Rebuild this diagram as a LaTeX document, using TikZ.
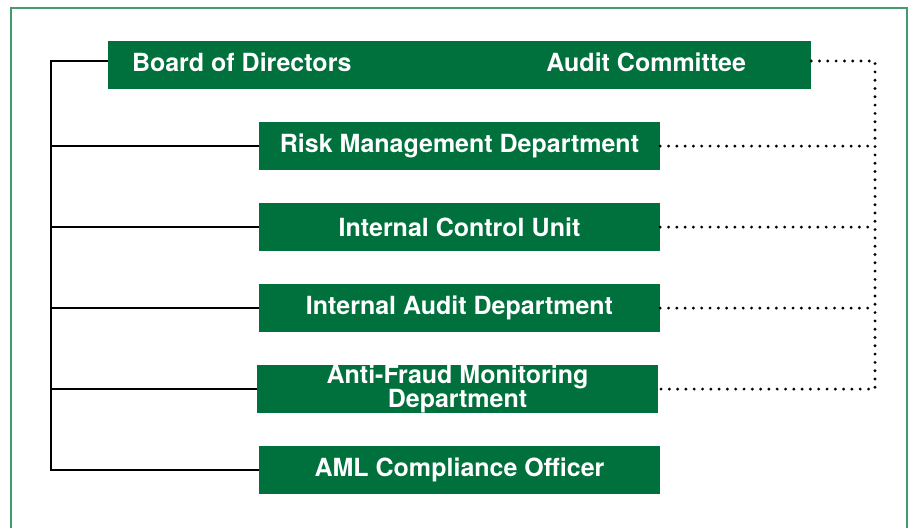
\documentclass[tikz,border=0pt]{standalone}
\usepackage{fontspec}
\setmainfont{TeX Gyre Heros}
\usetikzlibrary{positioning}

\definecolor{boxgreen}{RGB}{0,112,60}
\definecolor{framegreen}{RGB}{70,155,110}

\begin{document}
\begin{tikzpicture}[
    x=1pt, y=-1pt,
    % Set distances between nodes
    node distance=32.8pt,
    % Style for the green boxes
    box/.style={
        rectangle,
        fill=boxgreen,
        text=white,
        font=\fontsize{25}{21}\selectfont\bfseries,
        minimum width=401pt,
        minimum height=47.8pt,
        align=center,
        inner sep=0pt
    },
    % Style for the white texts on the top box
    title/.style={
        text=white,
        font=\fontsize{25}{21}\selectfont\bfseries,
        inner sep=0pt
    },
    % Solid reporting lines
    link/.style={
        draw=black,
        line width=2.3pt
    },
    % Dotted lines to the committee
    dots/.style={
        draw=black,
        line width=3.2pt,
        line cap=round,
        dash pattern=on 0pt off 8.3pt
    }
]

\useasboundingbox (0,0) rectangle (909,528);

% 0. Outer frame (open at the bottom)
\draw[framegreen, line width=1.5pt] (11,528) -- (11,8) -- (907,8) -- (907,528);

% 1. Place the nodes using relative positioning
\node[box, minimum width=703pt, minimum height=48pt] (board) at (459.5,65) {};
\node[title, anchor=west] (directors) at ([xshift=24pt, yshift=3pt]board.west) {Board of Directors};
\node[title, anchor=east] (audit) at ([xshift=-65pt, yshift=3pt]board.east) {Audit Committee};

\node[box, below=of board] (risk) {Risk Management Department};
\node[box, below=of risk] (control) {Internal Control Unit};
\node[box, below=of control] (intaudit) {Internal Audit Department};
\node[box, below=of intaudit, xshift=-2pt] (fraud) {Anti-Fraud Monitoring\\[-1pt]Department};
\node[box, below=of fraud, xshift=2pt] (aml) {AML Compliance Officer};

% 2. Helper coordinates for the two vertical rails
\coordinate (spine) at (51,0);
\coordinate (rail) at (875,0);

% 3. Solid lines on the left
\draw[link] ([yshift=4pt]board.west) -| (spine |- aml.west) -- (aml.west);
\draw[link] (risk.west) -- (spine |- risk.west);
\draw[link] (control.west) -- (spine |- control.west);
\draw[link] (intaudit.west) -- (spine |- intaudit.west);
\draw[link] (fraud.west) -- (spine |- fraud.west);

% 4. Dotted lines on the right
\draw[dots] ([yshift=4pt]board.east) -| (rail |- fraud.east) -- (fraud.east);
\draw[dots] (risk.east) -- (rail |- risk.east);
\draw[dots] (control.east) -- (rail |- control.east);
\draw[dots] (intaudit.east) -- (rail |- intaudit.east);

\end{tikzpicture}
\end{document}
